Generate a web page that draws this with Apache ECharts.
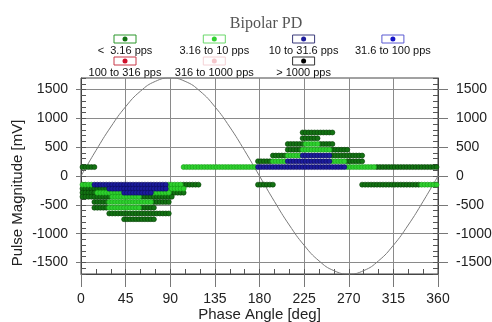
<!DOCTYPE html>
<html>
<head>
<meta charset="utf-8">
<script src="https://cdn.jsdelivr.net/npm/echarts@6/dist/echarts.min.js"></script>
<style>
html, body { margin: 0; padding: 0; background: #fff; }
#main { width: 492px; height: 322px; }
</style>
</head>
<body>
<div id="main"></div>
<script>
// legend / series names (pulse repetition classes)
let seriesNames = ['<  3.16 pps', '3.16 to 10 pps', '10 to 31.6 pps', '31.6 to 100 pps',
                   '100 to 316 pps', '316 to 1000 pps', '> 1000 pps'];
let dotColors = ['#137313', '#2fd12f', '#1c1c9c', '#1414c8', '#d0102a', '#f6c6cb', '#000000'];
let dotBorders = ['#073f07', '#179a17', '#0b0b5c', '#0a0a80', '#800010', '#e0a0a8', '#000000'];
let boxColors = ['#2b962b', '#6ad86a', '#3a3a7a', '#5a5ad2', '#c83848', '#f4d2d6', '#333333'];

// occupied phase windows: [magnitude mV, first bin deg, last bin deg], 3 deg bins
let binStep = 3;
let runsBelow316 = [
    [155, 1.5, 13.5], [155, 298.5, 358.5],
    [-150, 103.5, 118.5], [-150, 178.5, 193.5], [-150, 283.5, 340.5],
    [-220, 1.5, 25.5],
    [-290, 1.5, 13.5], [-290, 91.5, 103.5],
    [-360, 1.5, 28.5], [-360, 61.5, 91.5],
    [-450, 13.5, 25.5], [-450, 73.5, 88.5],
    [-550, 13.5, 25.5], [-550, 61.5, 73.5],
    [-650, 28.5, 88.5],
    [-750, 43.5, 73.5],
    [255, 178.5, 190.5], [255, 268.5, 283.5],
    [355, 193.5, 205.5], [355, 253.5, 283.5],
    [455, 208.5, 220.5], [455, 253.5, 268.5],
    [555, 208.5, 223.5], [555, 241.5, 253.5],
    [655, 223.5, 238.5],
    [755, 223.5, 253.5]
];
let runs316to10 = [
    [155, 103.5, 175.5], [155, 268.5, 295.5],
    [-150, 1.5, 10.5], [-150, 88.5, 100.5], [-150, 343.5, 358.5],
    [-220, 88.5, 103.5],
    [-290, 16.5, 40.5], [-290, 73.5, 88.5],
    [-360, 31.5, 58.5],
    [-450, 28.5, 70.5],
    [-550, 28.5, 58.5],
    [255, 193.5, 205.5], [255, 253.5, 265.5],
    [355, 208.5, 220.5],
    [455, 223.5, 250.5],
    [555, 226.5, 238.5]
];
let runs10to316 = [
    [-150, 13.5, 85.5],
    [-220, 28.5, 85.5],
    [-290, 43.5, 70.5],
    [155, 178.5, 265.5],
    [255, 208.5, 250.5],
    [355, 223.5, 250.5]
];
let runs316to100 = [];
let runs100to316 = [];
let runs316to1000 = [];
let runsAbove1000 = [];
let allRuns = [runsBelow316, runs316to10, runs10to316, runs316to100, runs100to316, runs316to1000, runsAbove1000];

// reference voltage curve, read every 15 deg
let sinePhase = [0, 15, 30, 45, 60, 75, 90, 105, 120, 135, 150, 165, 180,
                 195, 210, 225, 240, 255, 270, 285, 300, 315, 330, 345, 360];
let sineValues = [0, 440, 850, 1202, 1472, 1642, 1700, 1642, 1472, 1202, 850, 440, 0,
                  -440, -850, -1202, -1472, -1642, -1700, -1642, -1472, -1202, -850, -440, 0];

function runsToPoints(runs) {
    let pts = [];
    for (let i = 0; i < runs.length; i++) {
        let r = runs[i];
        for (let p = r[1]; p <= r[2] + 0.01; p += binStep) {
            pts.push([p, r[0]]);
        }
    }
    return pts;
}

let font = 'Liberation Sans, Arial, sans-serif';
let plainNum = v => String(v);

let series = [{
    type: 'line',
    xAxisIndex: 0,
    yAxisIndex: 0,
    data: sinePhase.map((p, i) => [p, sineValues[i]]),
    smooth: true,
    symbol: 'none',
    lineStyle: { color: '#7a7a7a', width: 1 },
    z: 1,
    silent: true
}];
for (let i = 0; i < seriesNames.length; i++) {
    series.push({
        name: seriesNames[i],
        type: 'scatter',
        xAxisIndex: 0,
        yAxisIndex: 0,
        symbolSize: 5,
        data: runsToPoints(allRuns[i]),
        itemStyle: { color: dotColors[i], borderColor: dotBorders[i], borderWidth: 0.6, opacity: 1 },
        z: 3 + i
    });
}

// legend drawn as boxed dots with labels underneath
let legendItems = [];
for (let i = 0; i < seriesNames.length; i++) {
    let cx = 125 + (i % 4) * 89.3;
    let top = i < 4 ? 35 : 57;
    legendItems.push({
        type: 'rect',
        shape: { x: cx - 11, y: top, width: 22, height: 8 },
        style: { fill: '#fff', stroke: boxColors[i], lineWidth: 1 }
    });
    legendItems.push({
        type: 'circle',
        shape: { cx: cx, cy: top + 4, r: 2.5 },
        style: { fill: dotColors[i] }
    });
    legendItems.push({
        type: 'text',
        x: cx,
        y: top + 16,
        style: { text: seriesNames[i], font: '11px ' + font, fill: '#111', align: 'center', verticalAlign: 'middle' }
    });
}

let chart = echarts.init(document.getElementById('main'));
chart.setOption({
    animation: false,
    backgroundColor: '#fff',
    title: {
        text: 'Bipolar PD',
        left: 261,
        top: 11,
        textAlign: 'center',
        textStyle: { fontFamily: 'Liberation Serif, serif', fontSize: 16, fontWeight: 'normal', color: '#555' }
    },
    graphic: legendItems,
    grid: [
        { left: 81, right: 54, top: 78, bottom: 48, show: true, borderColor: '#444', borderWidth: 1,
          containLabel: false, outerBoundsMode: 'none' },
        { left: 81, right: 54, top: 89.5, bottom: 59.5, containLabel: false, outerBoundsMode: 'none' }
    ],
    xAxis: [
        {
            gridIndex: 0, type: 'value', min: 0, max: 360, interval: 45, position: 'bottom',
            axisLine: { show: true, onZero: false, lineStyle: { color: '#444' } },
            axisTick: { show: true, length: 13, lineStyle: { color: '#777' } },
            axisLabel: { fontSize: 14, color: '#222', margin: 18, fontFamily: font, formatter: plainNum },
            splitLine: { show: true, lineStyle: { color: '#8a8a8a', width: 1 } },
            name: 'Phase Angle [deg]', nameLocation: 'middle', nameGap: 33, nameMoveOverlap: false,
            nameTextStyle: { fontSize: 15, color: '#222', fontFamily: font }
        },
        {
            gridIndex: 0, type: 'value', min: 0, max: 360, interval: 15, position: 'bottom',
            axisLine: { show: false, onZero: false },
            axisTick: { show: true, inside: true, length: 5, lineStyle: { color: '#555' } },
            axisLabel: { show: false },
            splitLine: { show: false }
        },
        { gridIndex: 1, type: 'value', min: 0, max: 360, show: false, axisLine: { onZero: false } }
    ],
    yAxis: [
        {
            gridIndex: 0, type: 'value', min: -1700, max: 1700, interval: 100, position: 'left',
            axisLine: { show: true, onZero: false, lineStyle: { color: '#444' } },
            axisTick: { show: true, inside: true, length: 5, lineStyle: { color: '#555' } },
            axisLabel: { show: false },
            splitLine: { show: false }
        },
        {
            gridIndex: 0, type: 'value', min: -1700, max: 1700, interval: 100, position: 'right',
            axisLine: { show: true, onZero: false, lineStyle: { color: '#444' } },
            axisTick: { show: true, inside: true, length: 5, lineStyle: { color: '#555' } },
            axisLabel: { show: false },
            splitLine: { show: false }
        },
        {
            gridIndex: 1, type: 'value', min: -1500, max: 1500, interval: 500, position: 'left',
            axisLine: { show: false, onZero: false },
            axisTick: { show: true, length: 5, lineStyle: { color: '#777' } },
            axisLabel: { fontSize: 14, color: '#222', margin: 13, fontFamily: font, formatter: plainNum },
            splitLine: { show: true, lineStyle: { color: '#8a8a8a', width: 1 } },
            name: 'Pulse Magnitude [mV]', nameLocation: 'middle', nameGap: 56, nameMoveOverlap: false,
            nameTextStyle: { fontSize: 15, color: '#222', fontFamily: font, padding: [0, 34, 0, 0] }
        },
        {
            gridIndex: 1, type: 'value', min: -1500, max: 1500, interval: 500, position: 'right',
            axisLine: { show: false, onZero: false },
            axisTick: { show: true, length: 10, lineStyle: { color: '#777' } },
            axisLabel: { fontSize: 14, color: '#222', margin: 18, fontFamily: font, formatter: plainNum },
            splitLine: { show: false }
        }
    ],
    series: series
});
</script>
</body>
</html>
